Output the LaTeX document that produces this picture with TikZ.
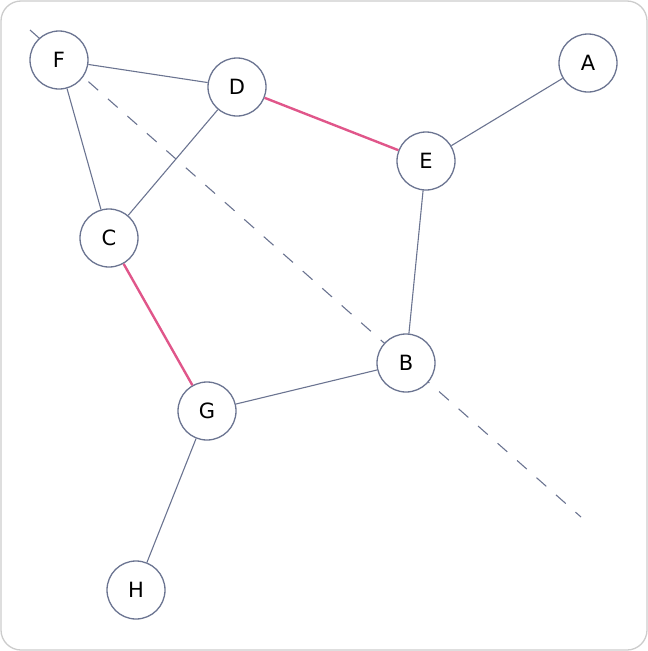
\documentclass[tikz,border=0pt]{standalone}
\usepackage{fontspec}
\setmainfont{DejaVu Sans}
\usetikzlibrary{positioning}
\definecolor{edgegray}{HTML}{6B7491}
\definecolor{cutpink}{HTML}{E0568A}
\definecolor{framegray}{HTML}{CCCCCC}
\newcommand{\vertexfont}{\fontsize{21pt}{24pt}\selectfont}

\begin{document}
\begin{tikzpicture}[
    x=1pt, y=-1pt,
    vertex/.style={draw=edgegray, line width=1.3pt, fill=white, circle, minimum size=58pt, inner sep=0pt},
    edge/.style={draw=edgegray, line width=1.1pt},
    cut/.style={draw=cutpink, line width=2.4pt},
  ]
  % Frame
  \draw[framegray, line width=1.3pt, rounded corners=20pt] (1,1) rectangle (647,650);
  \useasboundingbox (0,0) rectangle (648,651);

  % Separating line
  \coordinate (s1) at (30,30);
  \coordinate (s2) at (581,517);
  \draw[edgegray, line width=1.1pt, dash pattern=on 13pt off 13pt] (s1) -- (s2);

  % Vertices
  \node[vertex] (F) at (59,60) {\vertexfont F};
  \node[vertex] (D) at (237,87) {\vertexfont D};
  \node[vertex] (A) at (588,63) {\vertexfont A};
  \node[vertex] (E) at (426,161) {\vertexfont E};
  \node[vertex] (C) at (109,238) {\vertexfont C};
  \node[vertex] (B) at (406,363) {\vertexfont B};
  \node[vertex] (G) at (207,411) {\vertexfont G};
  \node[vertex] (H) at (136,590) {\vertexfont H};

  % Edges
  \draw[edge] (F) -- (D);
  \draw[edge] (F) -- (C);
  \draw[edge] (D) -- (C);
  \draw[edge] (E) -- (A);
  \draw[edge] (E) -- (B);
  \draw[edge] (G) -- (B);
  \draw[edge] (G) -- (H);

  % Cut edges
  \draw[cut] (D) -- (E);
  \draw[cut] (C) -- (G);
\end{tikzpicture}
\end{document}
